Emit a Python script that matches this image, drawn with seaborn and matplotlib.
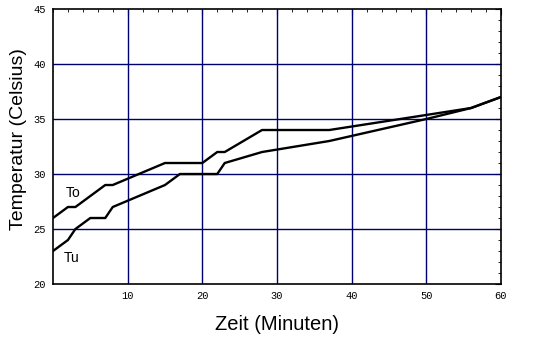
import pandas as pd
import seaborn as sns
import matplotlib.pyplot as plt
from matplotlib.ticker import MultipleLocator

# To (obere Temperatur) and Tu (untere Temperatur) over time
zeit_to = [0, 2, 3, 7, 8, 15, 20, 22, 23, 28, 37, 56, 60]
temp_to = [26, 27, 27, 29, 29, 31, 31, 32, 32, 34, 34, 36, 37]
zeit_tu = [0, 2, 3, 5, 7, 8, 15, 17, 22, 23, 28, 37, 50, 56, 60]
temp_tu = [23, 24, 25, 26, 26, 27, 29, 30, 30, 31, 32, 33, 35, 36, 37]

x_ticks = [10, 20, 30, 40, 50, 60]
y_ticks = [20, 25, 30, 35, 40, 45]

df = pd.concat([
    pd.DataFrame({"Zeit": zeit_to, "Temp": temp_to, "Serie": "To"}),
    pd.DataFrame({"Zeit": zeit_tu, "Temp": temp_tu, "Serie": "Tu"}),
])

sns.set_style("white")
plt.rcParams["text.color"] = "black"
plt.rcParams["axes.labelcolor"] = "black"
plt.rcParams["xtick.color"] = "black"
plt.rcParams["ytick.color"] = "black"

fig = plt.figure(figsize=(5.43, 3.56), dpi=100)
ax = fig.add_axes([0.0976, 0.2022, 0.825, 0.7725])

# grid lines in navy
for x in x_ticks[:-1]:
    ax.axvline(x, color="#000070", lw=1, zorder=1)
for y in y_ticks[1:-1]:
    ax.axhline(y, color="#000070", lw=1, zorder=1)

sns.lineplot(data=df, x="Zeit", y="Temp", units="Serie", estimator=None,
             color="black", lw=1.7, sort=False, ax=ax, zorder=3, legend=False)

ax.set_xlim(0, 60)
ax.set_ylim(20, 45)
ax.set_xticks(x_ticks)
ax.set_yticks(y_ticks)
ax.xaxis.set_minor_locator(MultipleLocator(2))
ax.yaxis.set_minor_locator(MultipleLocator(1))
ax.tick_params(which="both", direction="in", top=True, right=True,
               color="black", labelsize=7.5, pad=5)
ax.tick_params(which="major", length=4)
ax.tick_params(which="minor", length=2)
for lab in ax.get_xticklabels() + ax.get_yticklabels():
    lab.set_family("Liberation Mono")

for s in ax.spines.values():
    s.set_color("black")
    s.set_linewidth(1.2)

ax.set_xlabel("Zeit (Minuten)", fontsize=14.5, family="Liberation Sans", labelpad=10)
ax.set_ylabel("Temperatur (Celsius)", fontsize=14, family="Liberation Sans")
ax.yaxis.set_label_coords(-0.058, 0.527)

ax.text(1.75, 27.9, "To", fontsize=10, family="Liberation Sans")
ax.text(1.5, 22.0, "Tu", fontsize=10, family="Liberation Sans")

fig.savefig("out.png", dpi=100)
